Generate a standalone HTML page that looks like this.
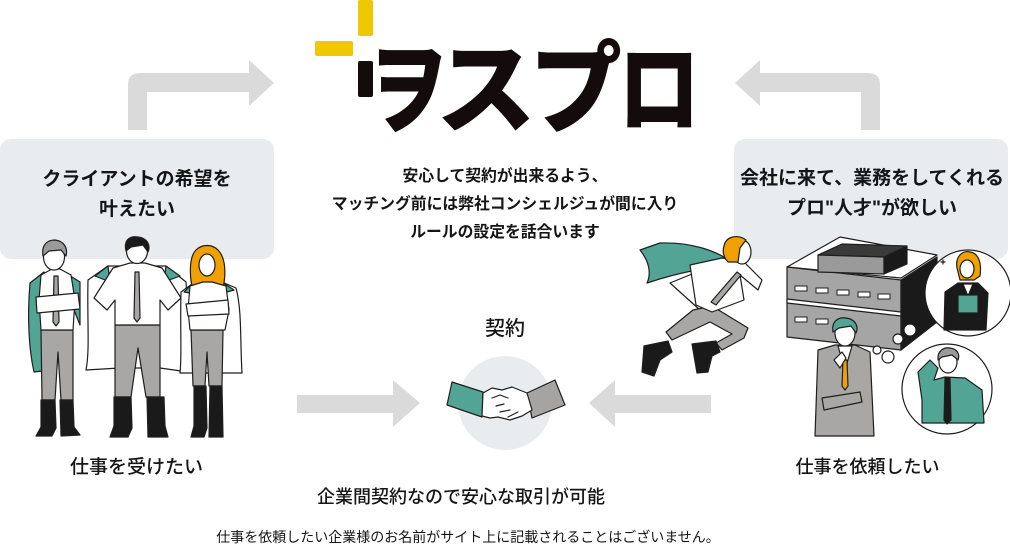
<!DOCTYPE html>
<html><head><meta charset="utf-8">
<style>
html,body{margin:0;padding:0;background:#fff;}
body{width:1010px;height:551px;position:relative;overflow:hidden;font-family:"Liberation Sans","Noto Sans CJK JP",sans-serif;color:#151515;}
.t{position:absolute;white-space:nowrap;text-align:center;}
svg{position:absolute;left:0;top:0;}
.logo{position:absolute;font-family:"Noto Sans CJK JP",sans-serif;font-weight:900;font-size:100px;line-height:100px;color:#140c0c;width:100px;text-align:center;top:32px;transform-origin:50% 50%;}
</style></head><body>
<svg width="1010" height="551" viewBox="0 0 1010 551">
  <rect x="0" y="139" width="274" height="120" rx="11" fill="#e9ecef"/>
  <rect x="734" y="139" width="274" height="120" rx="11" fill="#e9ecef"/>
  <path d="M128,130 L128,85 Q128,73 140,73 L249,73 L249,60 L274,83 L249,106 L249,92 L147,92 L147,130 Z" fill="#dadada"/>
  <path d="M880,130 L880,85 Q880,73 868,73 L760,73 L760,60 L735,83 L760,106 L760,92 L861,92 L861,130 Z" fill="#dadada"/>
  <path d="M297,395 L393,395 L393,380 L420,403 L393,427 L393,413 L297,413 Z" fill="#dadada"/>
  <path d="M711,395 L615,395 L615,380 L589,403 L615,427 L615,413 L711,413 Z" fill="#dadada"/>
  <circle cx="505" cy="403" r="47" fill="#e9ecef"/>
  <rect x="358" y="0" width="15" height="36" rx="2" fill="#eec900"/>
  <rect x="315" y="41" width="38" height="15" rx="2" fill="#eec900"/>
  <rect x="358" y="61" width="15" height="36" rx="2" fill="#140c0c"/>
</svg>

<div class="logo" style="left:358px;transform:scaleX(0.8);">ヲ</div>
<div class="logo" style="left:436px;">ス</div>
<div class="logo" style="left:526px;transform:scaleX(0.92);">プ</div>
<div class="logo" style="left:609px;transform:scaleX(0.82);">ロ</div>

<div class="t" style="left:0;width:274px;top:165px;font-size:19px;line-height:30px;font-weight:bold;">クライアントの希望を<br>叶えたい</div>
<div class="t" style="left:734px;width:276px;top:164px;font-size:19px;line-height:30px;font-weight:bold;">会社に来て、業務をしてくれる<br>プロ"人才"が欲しい</div>
<div class="t" style="left:205px;width:600px;top:163px;font-size:15.8px;line-height:28px;font-weight:bold;">安心して契約が出来るよう、<br>マッチング前には弊社コンシェルジュが間に入り<br>ルールの設定を話合います</div>
<div class="t" style="left:405px;width:200px;top:317px;font-size:20px;line-height:24px;font-weight:500;">契約</div>
<div class="t" style="left:0;width:273px;top:455px;font-size:19px;line-height:26px;font-weight:500;">仕事を受けたい</div>
<div class="t" style="left:767px;width:201px;top:454px;font-size:18px;line-height:26px;font-weight:500;">仕事を依頼したい</div>
<div class="t" style="left:161px;width:600px;top:484px;font-size:18px;line-height:26px;font-weight:500;">企業間契約なので安心な取引が可能</div>
<div class="t" style="left:168px;width:600px;top:527px;font-size:14px;line-height:20px;">仕事を依頼したい企業様のお名前がサイト上に記載されることはございません。</div>

<svg width="1010" height="551" viewBox="0 0 1010 551">
 <g stroke="#1e1e1e" stroke-width="1.2" stroke-linejoin="round" stroke-linecap="round">
  <!-- handshake -->
  <path d="M452,382 L483,392 L482,417 L447,405 Z" fill="#52a595"/>
  <path d="M527,393 L555,380 L565,405 L532,418 Z" fill="#a5a4a2"/>
  <path d="M483,393 L492,388 L502,390 L512,387 L527,393 L532,410 L522,416 L510,420 L498,417 L490,418 L482,416 Z" fill="#fff"/>
  <path d="M492,398 L500,395 L508,398 M496,406 L504,404 M500,412 L510,410 M508,417 L518,412" fill="none"/>

  <!-- PERSON 1 -->
  <path d="M44,272 L30,283 C27,318 29,350 34,372 L50,370 L58,298 Z" fill="#52a595"/>
  <path d="M64,272 L80,282 L80,325 L70,300 Z" fill="#52a595"/>
  <path d="M41,330 L73,330 L73,400 L61,400 L58,352 L55,400 L42,400 Z" fill="#a8a7a5"/>
  <path d="M41,400 L55,400 L56,428 L52,436 L36,436 L41,427 Z" fill="#1a1a1a"/>
  <path d="M60,400 L73,400 L74,427 L80,435 L61,436 Z" fill="#1a1a1a"/>
  <path d="M41,275 L52,269 L60,269 L71,275 L75,300 L73,330 L41,330 L39,300 Z" fill="#fff"/>
  <path d="M54,276 L58,276 L59,322 L56,326 L53,322 Z" fill="#a8a7a5"/>
  <path d="M36,297 L78,293 L80,309 L37,313 Z" fill="#fff"/>
  <ellipse cx="54" cy="257" rx="10.5" ry="13" fill="#fff"/>
  <path d="M43,256 C41,243 49,240 55,240 C64,241 68,248 66,256 L61,250 L49,251 Z" fill="#9a9a9a"/>

  <!-- PERSON 2 -->
  <path d="M108,266 L88,280 C87,320 90,350 86,370 L120,368 L160,368 L188,372 C185,340 188,310 186,282 L166,266 Z" fill="#fff"/>
  <path d="M108,266 L95,276 L110,282 Z M166,266 L180,276 L164,282 Z" fill="#52a595"/>
  <path d="M115,325 L160,325 L160,397 L146,397 L138,348 L131,397 L115,397 Z" fill="#a8a7a5"/>
  <path d="M114,397 L131,397 L132,428 L128,437 L110,437 L114,426 Z" fill="#1a1a1a"/>
  <path d="M147,397 L164,397 L165,426 L168,437 L148,437 Z" fill="#1a1a1a"/>
  <path d="M113,268 L130,263 L145,263 L162,268 L181,298 L168,310 L160,300 L160,325 L115,325 L115,300 L107,310 L94,298 Z" fill="#fff"/>
  <path d="M135,272 L139,272 L140,318 L137,322 L134,318 Z" fill="#a8a7a5"/>
  <ellipse cx="137" cy="251" rx="10.5" ry="12.5" fill="#fff"/>
  <path d="M126,251 C123,238 132,236 138,237 C147,238 151,245 148,252 L143,245 L131,247 Z" fill="#1a1a1a"/>

  <!-- PERSON 3 -->
  <path d="M192,284 L181,292 C180,330 182,355 180,373 L242,373 C240,340 242,310 236,288 L222,282 Z" fill="#fff"/>
  <path d="M192,284 L184,292 L197,294 Z M222,282 L234,290 L220,294 Z" fill="#52a595"/>
  <path d="M191,330 L223,330 L222,386 L209,386 L207,352 L205,386 L193,386 Z" fill="#a8a7a5"/>
  <path d="M194,386 L206,386 L207,428 L204,437 L191,437 L194,426 Z" fill="#1a1a1a"/>
  <path d="M210,386 L222,386 L223,437 L209,437 Z" fill="#1a1a1a"/>
  <path d="M196,250 C188,258 190,280 193,290 L223,288 C226,275 226,258 218,250 C212,244 202,244 196,250 Z" fill="#f0a000"/>
  <path d="M190,286 L203,282 L212,282 L226,286 L229,310 L225,330 L190,330 L188,310 Z" fill="#fff"/>
  <path d="M186,304 L228,300 L229,314 L188,316 Z" fill="#fff"/>
  <ellipse cx="207" cy="265" rx="8" ry="11" fill="#fff"/>

  <!-- RUNNING MAN -->
  <path d="M670,283 L700,310 L716,300 L697,272 Z" fill="#fff"/>
  <path d="M640,250 L660,243 C690,242 715,250 732,262 L697,270 C680,273 662,278 647,283 C652,272 648,260 640,250 Z" fill="#52a595"/>
  <path d="M693,310 L712,306 L748,328 L744,338 L722,350 L716,343 L732,334 L710,322 L672,340 L666,332 Z" fill="#a8a7a5"/>
  <path d="M644,346 L668,341 L672,352 L660,360 L654,376 L642,372 Z" fill="#1a1a1a"/>
  <path d="M692,344 L716,341 L720,352 L712,356 L708,372 L697,373 Z" fill="#1a1a1a"/>
  <path d="M690,265 L722,258 L744,262 L762,280 L758,290 L740,275 L744,300 L712,312 L696,305 Z" fill="#fff"/>
  <path d="M737,272 L741,275 L716,305 L711,302 Z" fill="#a8a7a5"/>
  <ellipse cx="742" cy="252" rx="9" ry="12" fill="#fff"/>
  <path d="M724,246 C726,236 738,234 746,240 L740,248 L738,262 L728,262 C724,258 722,252 724,246 Z" fill="#f0a000"/>

  <!-- BUILDING -->
  <path d="M787,267 L840,237 L937,255 L901,278 Z" fill="#fff"/>
  <path d="M787,267 L901,280 L901,350 L787,337 Z" fill="#a5a5a5"/>
  <path d="M787,299 L901,312 L901,316 L787,303 Z" fill="#fff"/>
  <path d="M901,280 L937,257 L937,322 L901,350 Z" fill="#1a1a1a"/>
  <path d="M818,255 L842,244 L907,246 L884,257 Z" fill="#3a3a3a"/>
  <path d="M818,255 L884,257 L884,274 L818,272 Z" fill="#9a9a9a"/>
  <path d="M884,257 L907,246 L907,264 L884,274 Z" fill="#1a1a1a"/>
  <g fill="#fff" stroke-width="1">
   <rect x="795" y="286" width="12" height="5"/><rect x="816" y="288" width="12" height="5"/><rect x="837" y="290" width="12" height="5"/><rect x="858" y="292" width="12" height="5"/><rect x="878" y="294" width="12" height="5"/>
   <rect x="795" y="317" width="12" height="5"/><rect x="816" y="319" width="12" height="5"/>
  </g>

  <!-- thought bubbles -->
  <circle cx="968" cy="293" r="43" fill="#fff"/>
  <circle cx="947" cy="389" r="45" fill="#fff"/>
  <circle cx="910" cy="330" r="6" fill="#fff"/>
  <circle cx="898" cy="339" r="5" fill="#fff"/>
  <circle cx="888" cy="357" r="6" fill="#fff"/>
  <circle cx="877" cy="350" r="4" fill="#fff"/>

  <!-- woman in bubble -->
  <path d="M944,330 L945,292 L958,283 L978,283 L988,293 L986,330 Z" fill="#1a1a1a"/>
  <path d="M963,284 L968,296 L973,284 Z" fill="#fff"/>
  <rect x="958" y="295" width="20" height="18" fill="#52a595"/>
  <path d="M957,268 C955,256 963,250 970,252 C978,253 982,262 980,276 L974,280 L960,280 Z" fill="#f0a000"/>
  <ellipse cx="967" cy="269" rx="7" ry="9" fill="#fff"/>
  <path d="M941,262 L945,262 M943,260 L943,264" fill="none"/>

  <!-- man in bubble 2 -->
  <path d="M918,372 L930,360 L938,368 L934,380 L945,377 L965,378 L982,390 L984,423 L922,423 L922,400 Z" fill="#52a595"/>
  <path d="M945,378 L950,378 L951,420 L947,424 L944,420 Z" fill="#1a1a1a"/>
  <ellipse cx="948" cy="362" rx="9" ry="11" fill="#fff"/>
  <path d="M938,360 C937,350 945,347 950,348 C958,349 960,355 958,360 L952,355 L942,357 Z" fill="#9a9a9a"/>

  <!-- thinking man -->
  <path d="M818,350 L835,345 L855,345 L870,352 L874,436 L815,436 Z" fill="#a8a7a5"/>
  <path d="M838,346 L845,370 L852,346 Z" fill="#fff"/>
  <path d="M843,360 L847,360 L848,386 L845,390 L842,386 Z" fill="#f0a000"/>
  <path d="M822,398 L860,392 L862,402 L824,410 Z" fill="#a8a7a5"/>
  <path d="M834,360 L842,352 L846,358 L840,368 Z" fill="#fff"/>
  <ellipse cx="845" cy="333" rx="10" ry="13" fill="#fff"/>
  <path d="M833,332 C831,320 840,317 846,318 C855,319 859,326 856,333 L851,326 L839,328 Z" fill="#52a595"/>
 </g>
</svg>
</body></html>
